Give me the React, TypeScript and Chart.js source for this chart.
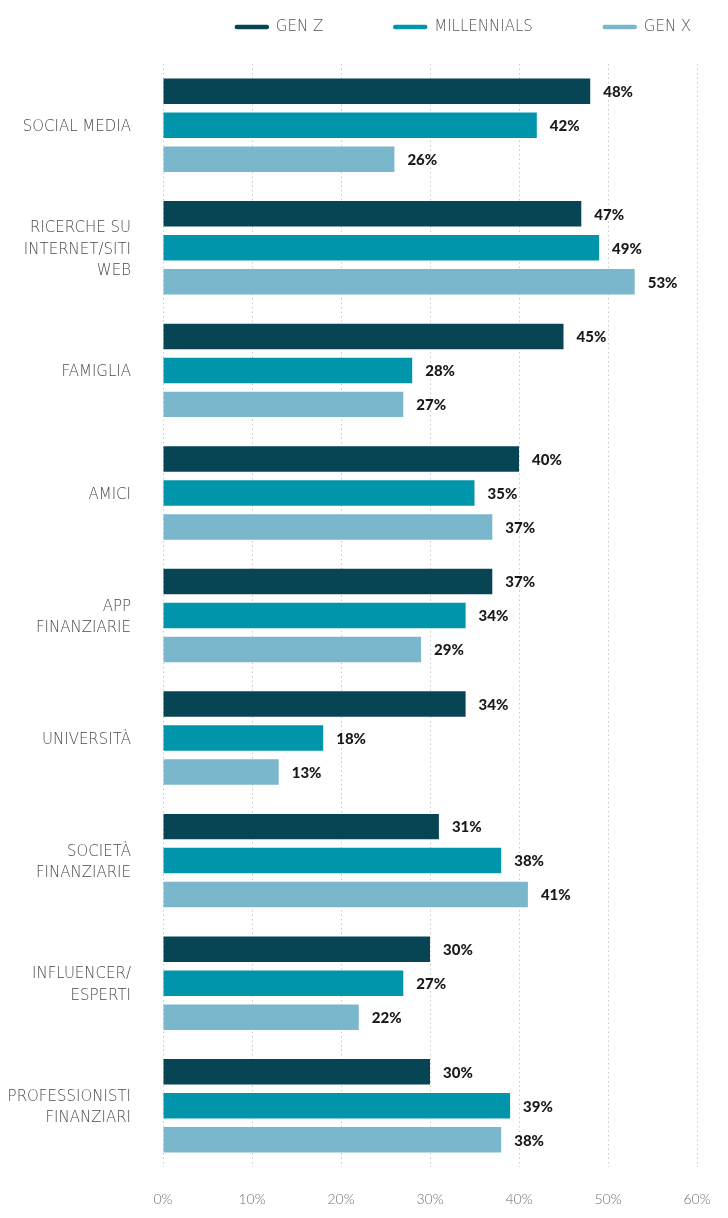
import React, { useEffect, useRef } from "react";
import { Chart, registerables } from "chart.js";

Chart.register(...registerables);

const categories: string[][] = [
  ["SOCIAL MEDIA"],
  ["RICERCHE SU", "INTERNET/SITI", "WEB"],
  ["FAMIGLIA"],
  ["AMICI"],
  ["APP", "FINANZIARIE"],
  ["UNIVERSITÀ"],
  ["SOCIETÀ", "FINANZIARIE"],
  ["INFLUENCER/", "ESPERTI"],
  ["PROFESSIONISTI", "FINANZIARI"],
];

const seriesNames = ["GEN Z", "MILLENNIALS", "GEN X"];
const genZ = [48, 47, 45, 40, 37, 34, 31, 30, 30];
const millennials = [42, 49, 28, 35, 34, 18, 38, 27, 39];
const genX = [26, 53, 27, 37, 29, 13, 41, 22, 38];
const seriesColors = ["#084554", "#0095ab", "#7ab7cd"];
const xTicks = [0, 10, 20, 30, 40, 50, 60];

const LABEL_FONT = '"DejaVu Sans", sans-serif';

const valueLabels = {
  id: "valueLabels",
  afterDatasetsDraw(chart: any) {
    const ctx = chart.ctx;
    ctx.save();
    ctx.font = `900 15px Lato, sans-serif`;
    ctx.fillStyle = "#1a1a1a";
    ctx.textAlign = "left";
    ctx.textBaseline = "middle";
    chart.data.datasets.forEach((ds: any, i: number) => {
      const meta = chart.getDatasetMeta(i);
      meta.data.forEach((bar: any, j: number) => {
        ctx.fillText(`${ds.data[j]}%`, bar.x + 13, bar.y + 1);
      });
    });
    ctx.restore();
  },
};

const topLegend = {
  id: "topLegend",
  afterDraw(chart: any) {
    const ctx = chart.ctx;
    ctx.save();
    ctx.font = `200 15px ${LABEL_FONT}`;
    const markerW = 34;
    const textGap = 7;
    const gap = 70;
    const items = chart.data.datasets.map((ds: any) => ({
      text: ds.label,
      color: ds.backgroundColor,
      w: ctx.measureText(ds.label).width,
    }));
    const total =
      items.reduce((s: number, it: any) => s + markerW + textGap + it.w, 0) +
      gap * (items.length - 1);
    const centerX = 463;
    const y = 27;
    let x = centerX - total / 2;
    items.forEach((it: any) => {
      ctx.strokeStyle = it.color;
      ctx.lineWidth = 4.5;
      ctx.lineCap = "round";
      ctx.beginPath();
      ctx.moveTo(x + 2, y);
      ctx.lineTo(x + markerW - 2, y);
      ctx.stroke();
      ctx.fillStyle = "#555555";
      ctx.textAlign = "left";
      ctx.textBaseline = "middle";
      ctx.fillText(it.text, x + markerW + textGap, y);
      x += markerW + textGap + it.w + gap;
    });
    ctx.restore();
  },
};

export default function App() {
  const canvasRef = useRef<HTMLCanvasElement | null>(null);

  useEffect(() => {
    document.body.style.margin = "0";
    const canvas = canvasRef.current;
    if (!canvas) return;
    const chart = new Chart(canvas, {
      type: "bar",
      data: {
        labels: categories,
        datasets: [
          { label: seriesNames[0], data: genZ, backgroundColor: seriesColors[0] },
          { label: seriesNames[1], data: millennials, backgroundColor: seriesColors[1] },
          { label: seriesNames[2], data: genX, backgroundColor: seriesColors[2] },
        ],
      },
      options: {
        indexAxis: "y",
        animation: false,
        responsive: true,
        maintainAspectRatio: false,
        layout: { padding: { top: 64, right: 31, bottom: 0, left: 0 } },
        datasets: {
          bar: { categoryPercentage: 0.832, barPercentage: 0.75 },
        },
        plugins: {
          legend: { display: false },
          tooltip: { enabled: false },
        },
        scales: {
          x: {
            min: 0,
            max: 60,
            afterFit: (s: any) => {
              s.height = 51;
            },
            afterBuildTicks: (s: any) => {
              s.ticks = xTicks.map((v) => ({ value: v }));
            },
            grid: {
              color: "#c8c8c8",
              lineWidth: 1,
              drawTicks: true,
              tickLength: 24,
              tickColor: "rgba(0,0,0,0)",
            },
            border: { display: false, dash: [1.5, 3] },
            ticks: {
              padding: 0,
              color: "#707070",
              font: { family: "Lato, sans-serif", size: 14, weight: "300" },
              callback: (v: any) => `${v}%`,
            },
          },
          y: {
            afterFit: (s: any) => {
              s.width = 163;
            },
            grid: { display: false, drawTicks: false },
            border: { display: false },
            ticks: {
              padding: 32,
              labelOffset: 2,
              color: "#4a4a4a",
              font: { family: LABEL_FONT, size: 15, weight: "200", lineHeight: 1.45 },
            },
          },
        },
      },
      plugins: [valueLabels, topLegend],
    });
    return () => chart.destroy();
  }, []);

  return (
    <div style={{ position: "relative", width: "728px", height: "1218px", background: "#ffffff" }}>
      <canvas ref={canvasRef} />
    </div>
  );
}
